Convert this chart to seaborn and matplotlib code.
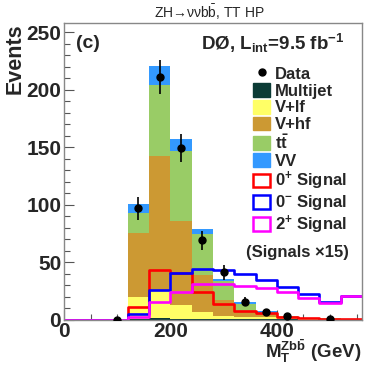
import numpy as np
import pandas as pd
import matplotlib
matplotlib.use("Agg")
import matplotlib.pyplot as plt
import seaborn as sns
from matplotlib.patches import Patch
from matplotlib.lines import Line2D
from matplotlib.ticker import MultipleLocator

# ---- data ----
bin_edges = [0, 40, 80, 120, 160, 200, 240, 280, 320, 360, 400, 440, 480, 520, 560]
bin_centers = [20, 60, 100, 140, 180, 220, 260, 300, 340, 380, 420, 460, 500, 540]

multijet = [0, 0, 0, 0.8, 1.0, 0.8, 0.5, 0.3, 0.2, 0.1, 0.1, 0.0, 0.0, 0.0]
v_lf     = [0, 0, 0, 18.7, 24.6, 11.8, 6.3, 3.0, 2.3, 2.4, 1.0, 0.5, 0.4, 0.3]
v_hf     = [0, 0, 0, 55.5, 116.4, 73.1, 31.7, 13.7, 5.2, 2.5, 1.2, 0.6, 0.4, 0.2]
ttbar    = [0, 0, 0, 17.4, 62.5, 61.3, 35.8, 16.5, 5.8, 1.0, 0.4, 0.2, 0.1, 0.05]
vv       = [0, 0, 0, 8.1, 16.5, 10.3, 4.4, 1.5, 2.0, 1.4, 0.4, 0.2, 0.1, 0.05]

sig_0p = [0, 0, 0, 10.6, 43.0, 40.1, 23.6, 13.5, 7.6, 6.0, 2.5, 1.0, 0.5, 0.3]
sig_0m = [0, 0, 0, 4.8, 25.6, 40.1, 43.6, 43.0, 39.3, 34.3, 28.5, 21.9, 15.0, 20.7]
sig_2p = [0, 0, 0, 2.4, 15.0, 24.2, 30.6, 30.6, 29.3, 27.7, 23.6, 18.4, 14.0, 20.7]

data_x   = [100, 140, 180, 220, 260, 300, 340, 380, 420, 500]
data_y   = [0, 97, 211, 149, 69, 41, 15.5, 6.2, 3.3, 0.6]
data_err = [0, 10, 14.6, 12.2, 8.3, 6.4, 3.9, 2.4, 1.8, 0.8]

processes = ["Multijet", "V+lf", "V+hf", r"$t\bar{t}$", "VV"]
colors = {"Multijet": "#0b3b35", "V+lf": "#ffff66", "V+hf": "#cc9933",
          r"$t\bar{t}$": "#99cc66", "VV": "#3399ff"}

# ---- style ----
sns.set_theme(style="ticks")
plt.rcParams["font.family"] = ["Liberation Sans", "DejaVu Sans"]
plt.rcParams["font.weight"] = "bold"
plt.rcParams["mathtext.fontset"] = "custom"
plt.rcParams["mathtext.rm"] = "Liberation Sans:bold"
plt.rcParams["mathtext.it"] = "Liberation Sans:bold"
plt.rcParams["mathtext.bf"] = "Liberation Sans:bold"
plt.rcParams["mathtext.default"] = "rm"

fig = plt.figure(figsize=(3.81, 3.66), dpi=100)
ax = fig.add_axes([0.168, 0.127, 0.782, 0.810])

rows = []
for name, vals in zip(processes, [multijet, v_lf, v_hf, ttbar, vv]):
    for c, v in zip(bin_centers, vals):
        rows.append({"x": c, "w": v, "proc": name})
df = pd.DataFrame(rows)

stack_order = processes[::-1]  # seaborn stacks first hue level on top
sns.histplot(data=df, x="x", weights="w", hue="proc", hue_order=stack_order,
             palette=colors, bins=bin_edges, multiple="stack", element="step",
             fill=True, alpha=1, linewidth=0, legend=False, ax=ax)

sig_colors = ["#ff0000", "#0000ff", "#ff00ff"]
for vals, col in zip([sig_0p, sig_0m, sig_2p], sig_colors):
    sns.histplot(x=bin_centers, weights=vals, bins=bin_edges, element="step",
                 fill=False, color=col, linewidth=1.9, ax=ax)

ax.errorbar(data_x, data_y, yerr=data_err, fmt="o", color="black", ms=5,
            elinewidth=1.2, capsize=0, zorder=10)

ax.set_xlim(0, 560)
ax.set_ylim(0, 258)
ax.xaxis.set_major_locator(MultipleLocator(200))
ax.xaxis.set_minor_locator(MultipleLocator(50))
ax.yaxis.set_major_locator(MultipleLocator(50))
ax.yaxis.set_minor_locator(MultipleLocator(10))
ax.tick_params(axis="both", which="both", direction="in", top=False, right=False,
               color="#555555", labelsize=15)
ax.tick_params(axis="both", which="major", length=7, width=0.8)
ax.tick_params(axis="both", which="minor", length=4, width=0.8)
ax.tick_params(axis="y", pad=2)
ax.tick_params(axis="x", pad=2)
for lab in ax.get_xticklabels() + ax.get_yticklabels():
    lab.set_fontweight("bold")
for s in ax.spines.values():
    s.set_color("#888888")
    s.set_linewidth(1.0)
    s.set_visible(True)

ax.set_xlabel("")
ax.set_ylabel("")
fig.text(362 / 381, 0.004, r"M$_\mathrm{T}^{\mathrm{Zb}\bar{\mathrm{b}}}$ (GeV)",
         ha="right", va="bottom", fontsize=13.5, fontweight="bold")
ax.text(-0.165, 1.0, "Events", transform=ax.transAxes, rotation=90,
        ha="center", va="top", fontsize=15.5, fontweight="bold")

fig.text(0.55, 0.967, "ZH→νν$\\mathregular{b\\bar{b}}$, TT HP", ha="center", va="center",
         fontsize=10, fontweight="normal",
         math_fontfamily="dejavusans")

ax.text(0.04, 0.93, "(c)", transform=ax.transAxes, ha="left", va="center",
        fontsize=14, fontweight="bold")
ax.text(0.94, 0.93, r"DØ, L$_{\mathrm{int}}$=9.5 fb$^{\mathrm{-1}}$",
        transform=ax.transAxes, ha="right", va="center", fontsize=13.5, fontweight="bold")

handles = [Line2D([0], [0], marker="o", color="black", linestyle="none", markersize=5)]
labels = ["Data"]
for p in processes:
    handles.append(Patch(facecolor=colors[p], edgecolor=colors[p]))
    labels.append(p)
for col, lab in zip(sig_colors, [r"0$^{+}$ Signal", r"0$^{-}$ Signal", r"2$^{+}$ Signal"]):
    handles.append(Patch(facecolor="white", edgecolor=col, linewidth=1.8))
    labels.append(lab)
leg = ax.legend(handles, labels, loc="upper left", bbox_to_anchor=(0.635, 0.855),
                frameon=False, fontsize=12, labelspacing=0.07, handlelength=1.0,
                handleheight=0.9, handletextpad=0.3, borderpad=0, borderaxespad=0)
for t in leg.get_texts():
    t.set_fontweight("bold")

ax.text(0.955, 0.225, "(Signals ×15)", transform=ax.transAxes, ha="right",
        va="center", fontsize=12, fontweight="bold")

fig.savefig("out.png", dpi=100)
